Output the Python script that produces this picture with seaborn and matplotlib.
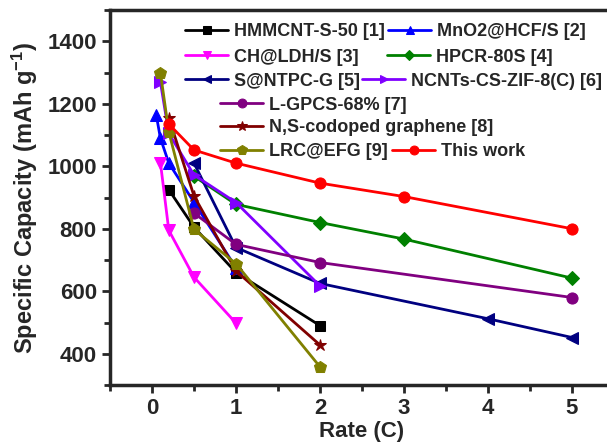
import numpy as np
import pandas as pd
import seaborn as sns
import matplotlib.pyplot as plt

### data
labels = ['HMMCNT-S-50 [1]', 'MnO2@HCF/S [2]', 'CH@LDH/S [3]', 'HPCR-80S [4]',
          'S@NTPC-G [5]', 'NCNTs-CS-ZIF-8(C) [6]', 'L-GPCS-68% [7]',
          'N,S-codoped graphene [8]', 'LRC@EFG [9]', 'This work']

hmm_x = [0.2, 0.5, 1, 2]
hmm_y = [925, 805, 660, 490]
mno_x = [0.05, 0.1, 0.2, 0.5, 1]
mno_y = [1165, 1090, 1010, 885, 675]
ch_x = [0.1, 0.2, 0.5, 1]
ch_y = [1012, 795, 645, 498]
hpcr_x = [0.5, 1, 2, 3, 5]
hpcr_y = [968, 878, 820, 767, 642]
ntpc_x = [0.5, 1, 2, 4, 5]
ntpc_y = [1010, 740, 625, 512, 452]
ncnt_x = [0.1, 0.2, 0.5, 1, 2]
ncnt_y = [1270, 1105, 972, 884, 617]
lgpcs_x = [0.5, 1, 2, 5]
lgpcs_y = [850, 750, 692, 580]
ns_x = [0.2, 0.5, 1, 2]
ns_y = [1155, 905, 665, 428]
lrc_x = [0.1, 0.2, 0.5, 1, 2]
lrc_y = [1300, 1110, 798, 688, 358]
this_x = [0.2, 0.5, 1, 2, 3, 5]
this_y = [1135, 1052, 1010, 946, 903, 800]

xs = [hmm_x, mno_x, ch_x, hpcr_x, ntpc_x, ncnt_x, lgpcs_x, ns_x, lrc_x, this_x]
ys = [hmm_y, mno_y, ch_y, hpcr_y, ntpc_y, ncnt_y, lgpcs_y, ns_y, lrc_y, this_y]

colors = ['#000000', '#0000FF', '#FF00FF', '#008000', '#000080',
          '#8000FF', '#800080', '#800000', '#808000', '#FF0000']
markers = ['s', '^', 'v', 'D', '<', '>', 'o', '*', 'p', 'o']
msizes = [7, 8, 8, 7, 8, 8, 8, 9, 9, 8]

# legend placement (pixels in the 607x447 picture: handle left, row centre)
leg_pos = [(185, 32), (388, 32), (185, 57), (387, 57), (185, 81),
           (362, 81), (220, 105), (220, 128), (220, 152), (392, 152)]

sns.set_style('ticks')
plt.rcParams['font.family'] = ['Liberation Sans', 'DejaVu Sans']
plt.rcParams['font.weight'] = 'bold'
plt.rcParams['axes.labelweight'] = 'bold'
plt.rcParams['mathtext.fontset'] = 'custom'
plt.rcParams['mathtext.rm'] = 'Liberation Sans:bold'
plt.rcParams['mathtext.default'] = 'rm'

W, H = 607, 447
fig = plt.figure(figsize=(W / 100, H / 100), dpi=100)
ax = fig.add_axes([110 / W, 62 / H, 504 / W, 375 / H])

handles = []
for i in range(len(labels)):
    df = pd.DataFrame({'rate': xs[i], 'cap': ys[i]})
    sns.lineplot(data=df, x='rate', y='cap', ax=ax, color=colors[i],
                 marker=markers[i], markersize=msizes[i], markeredgecolor=colors[i],
                 linewidth=2, sort=False, estimator=None, legend=False)
    handles.append(ax.lines[-1])

ax.set_xlim(-0.5, 5.5)
ax.set_ylim(300, 1500)
ax.set_xticks([0, 1, 2, 3, 4, 5])
ax.set_xticks(np.arange(-0.5, 5.6, 0.5), minor=True)
ax.set_yticks([400, 600, 800, 1000, 1200, 1400])
ax.set_yticks(np.arange(300, 1501, 100), minor=True)
ax.tick_params(which='major', length=6, width=2, labelsize=16)
ax.tick_params(which='minor', length=4, width=2)
for s in ax.spines.values():
    s.set_linewidth(2.5)
for lab in ax.get_xticklabels() + ax.get_yticklabels():
    lab.set_fontweight('bold')

ax.set_xlabel('Rate (C)', fontsize=16, fontweight='bold', labelpad=1)
ax.set_ylabel('Specific Capacity (mAh g$^{-1}$)', fontsize=17, fontweight='bold', labelpad=5)

for h, lab, (px, py) in zip(handles, labels, leg_pos):
    fig.legend([h], [lab], loc='center left', bbox_to_anchor=(px / W, 1 - py / H),
               bbox_transform=fig.transFigure, frameon=False, borderpad=0,
               borderaxespad=0, handlelength=2.4, handletextpad=0.3,
               markerscale=0.8, prop={'size': 13, 'weight': 'bold'})

fig.savefig('out.png', dpi=100)
